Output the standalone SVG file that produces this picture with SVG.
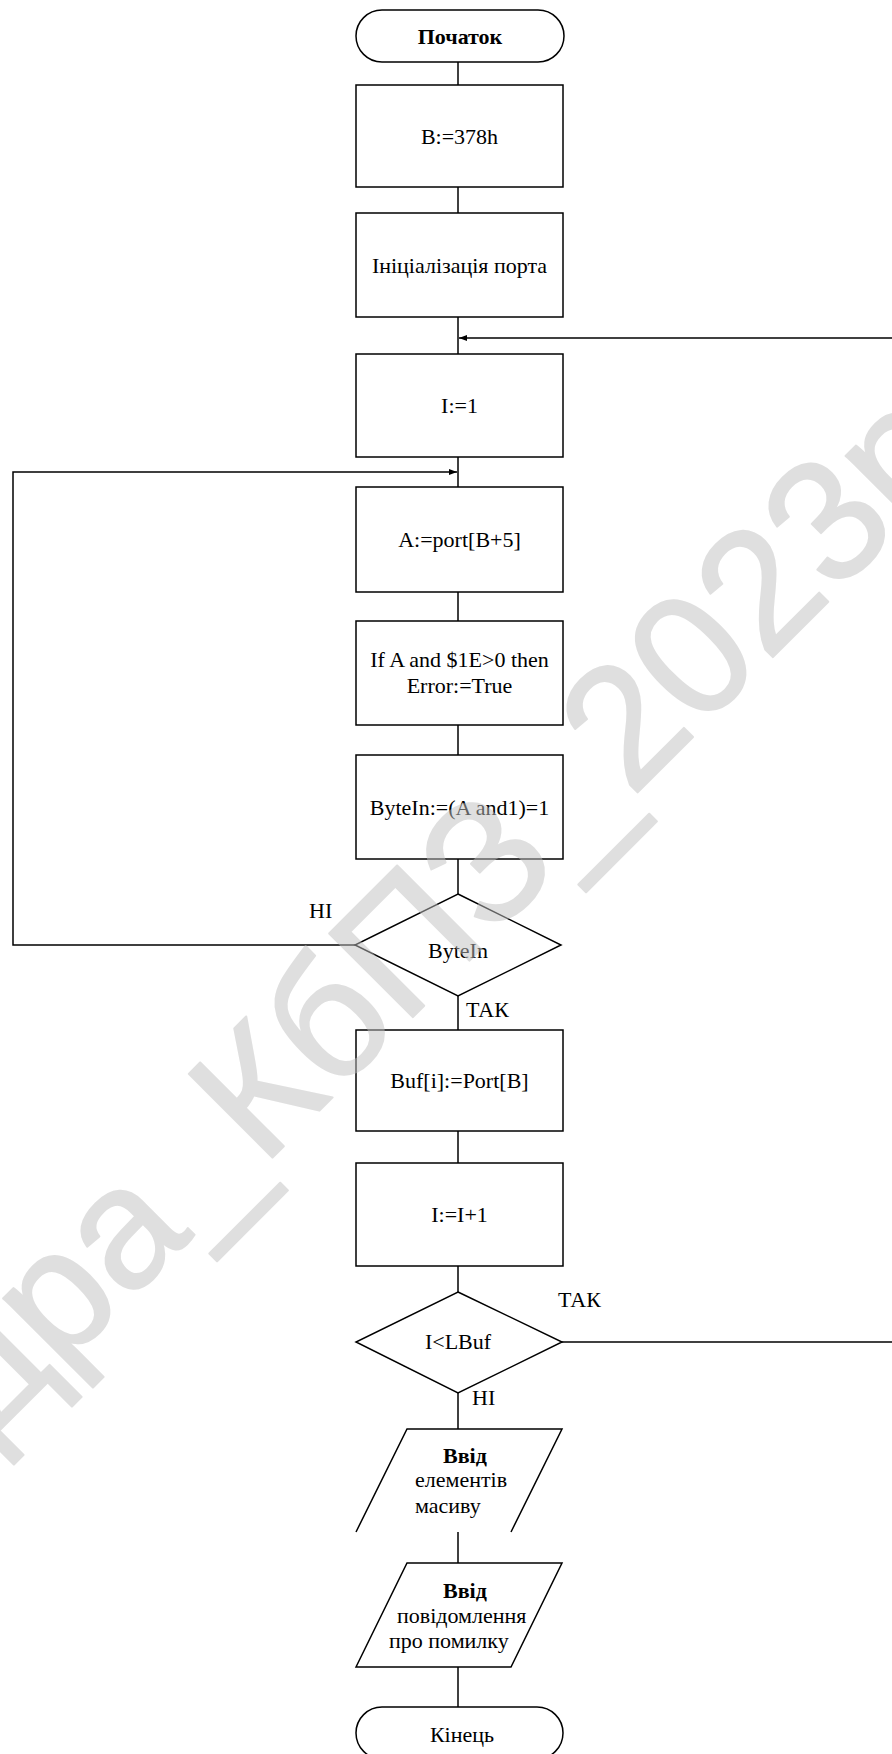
<svg xmlns="http://www.w3.org/2000/svg" width="892" height="1754" viewBox="0 0 892 1754">
<style>
.s{fill:none;stroke:#000;stroke-width:1.5}
.t{font-family:"Liberation Serif","Times New Roman",serif;font-size:22px;fill:#000;text-anchor:middle}
.l{text-anchor:start}
.b{font-weight:bold}
.c{fill:none;stroke:#000;stroke-width:1.5}
.wm{font-family:"Liberation Sans",Arial,sans-serif;font-size:172px;fill:#c0c0c0;stroke:#c0c0c0;stroke-width:2;stroke-linejoin:round;opacity:.5}
</style>
<defs>
<marker id="arr" markerWidth="8" markerHeight="6" refX="8" refY="3" orient="auto" markerUnits="userSpaceOnUse"><path d="M0,0 L8,3 L0,6 z" fill="#000"/></marker>
</defs>
<rect width="892" height="1754" fill="#fff"/>
<g id="connectors">
<path class="c" d="M458,62 V85"/>
<path class="c" d="M458,187 V213"/>
<path class="c" d="M458,317 V354"/>
<path class="c" d="M892,338 H459" marker-end="url(#arr)"/>
<path class="c" d="M458,457 V487"/>
<path class="c" d="M355,945 H13 V472 H457" marker-end="url(#arr)"/>
<path class="c" d="M458,592 V621"/>
<path class="c" d="M458,725 V755"/>
<path class="c" d="M458,859 V894"/>
<path class="c" d="M458,996 V1030"/>
<path class="c" d="M458,1131 V1163"/>
<path class="c" d="M458,1266 V1292"/>
<path class="c" d="M562,1342 H892"/>
<path class="c" d="M458,1393 V1429"/>
<path class="c" d="M458,1532 V1563"/>
<path class="c" d="M458,1667 V1707"/>
<text class="t l" x="309" y="918">НІ</text>
<text class="t l" x="466" y="1017">ТАК</text>
<text class="t l" x="558" y="1307">ТАК</text>
<text class="t l" x="472" y="1405">НІ</text>
</g>
<g id="start"><rect class="s" x="356" y="10" width="208" height="52" rx="26"/><text class="t b" x="460" y="44">Початок</text></g>
<g id="setB"><rect class="s" x="356" y="85" width="207" height="102"/><text class="t" x="459.5" y="144">B:=378h</text></g>
<g id="init"><rect class="s" x="356" y="213" width="207" height="104"/><text class="t" x="459.5" y="273">Ініціалізація порта</text></g>
<g id="i1"><rect class="s" x="356" y="354" width="207" height="103"/><text class="t" x="459.5" y="413">I:=1</text></g>
<g id="readA"><rect class="s" x="356" y="487" width="207" height="105"/><text class="t" x="459.5" y="547">A:=port[B+5]</text></g>
<g id="checkErr"><rect class="s" x="356" y="621" width="207" height="104"/><text class="t" x="459.5" y="667">If A and $1E&gt;0 then</text><text class="t" x="459.5" y="693">Error:=True</text></g>
<g id="byteInCalc"><rect class="s" x="356" y="755" width="207" height="104"/><text class="t" x="459.5" y="815">ByteIn:=(A and1)=1</text></g>
<g id="byteInDec"><polygon class="s" points="458,894 561,945 458,996 355,945"/><text class="t" x="458" y="958">ByteIn</text></g>
<g id="bufStore"><rect class="s" x="356" y="1030" width="207" height="101"/><text class="t" x="459.5" y="1088">Buf[i]:=Port[B]</text></g>
<g id="inc"><rect class="s" x="356" y="1163" width="207" height="103"/><text class="t" x="459.5" y="1222">I:=I+1</text></g>
<g id="lbufDec"><polygon class="s" points="458,1292 562,1342 458,1393 356,1342"/><text class="t" x="458" y="1349">I&lt;LBuf</text></g>
<g id="out1"><path class="s" d="M356,1532 L407,1429 H562 L511,1532"/><text class="t l b" x="443" y="1463">Ввід</text><text class="t l" x="415" y="1487">елементів</text><text class="t l" x="415" y="1513">масиву</text></g>
<g id="out2"><polygon class="s" points="356,1667 407,1563 562,1563 511,1667"/><text class="t l b" x="443" y="1598">Ввід</text><text class="t l" x="397" y="1623">повідомлення</text><text class="t l" x="389" y="1648">про помилку</text></g>
<g id="end"><rect class="s" x="356" y="1707" width="207" height="52" rx="26"/><text class="t" x="462" y="1742">Кінець</text></g>
<text class="wm" transform="translate(-315,1745) rotate(-45)">Кафедра_КбПЗ_2023р</text>
</svg>
